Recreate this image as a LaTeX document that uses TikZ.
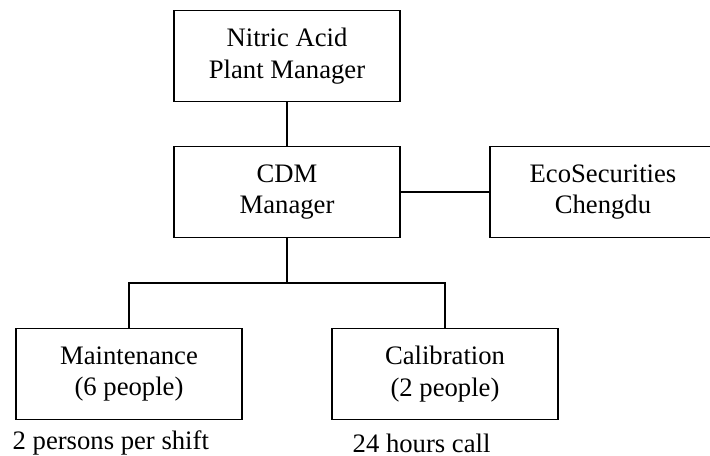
\documentclass[tikz,border=0pt]{standalone}
\usepackage{fontspec}
\setmainfont{Liberation Serif}
\tikzset{every picture/.style={line width=1pt}}
\tikzset{unitbox/.style={draw, rectangle, minimum width=169.5pt, minimum height=68pt, align=center, font=\fontsize{20}{23.7}\selectfont}}
\tikzset{notetext/.style={anchor=west, inner sep=0pt, font=\fontsize{20}{23.7}\selectfont}}

\begin{document}
\begin{tikzpicture}[x=0.75pt,y=0.75pt,yscale=-1,xscale=1]
	%set diagram area to 710 x 456
	\useasboundingbox (0,0) rectangle (710,456);

	%Shape: Rectangle [id:plant] 
	\node [unitbox] (plant) at (287,56) {Nitric Acid\\Plant Manager};
	%Shape: Rectangle [id:cdm] 
	\node [unitbox] (cdm) at (287,192) {CDM\\Manager};
	%Shape: Rectangle [id:eco] 
	\node [unitbox] (eco) at (603,192) {EcoSecurities\\Chengdu};
	%Shape: Rectangle [id:maint] 
	\node [unitbox] (maint) at (129,374) {Maintenance\\(6 people)};
	%Shape: Rectangle [id:calib] 
	\node [unitbox] (calib) at (445,374) {Calibration\\(2 people)};

	% Text Node
	\node [notetext] (shiftnote) at (12,443) {2 persons per shift};
	% Text Node
	\node [notetext] (callnote) at (352,443) {24 hours call};

	%Straight Lines
	\coordinate (split) at (287,283);
	\draw (plant.south) -- (cdm.north);
	\draw (cdm.east) -- (eco.west);
	\draw (cdm.south) -- (split);
	\draw (split) -| (maint.north);
	\draw (split) -| (calib.north);

\end{tikzpicture}
\end{document}
